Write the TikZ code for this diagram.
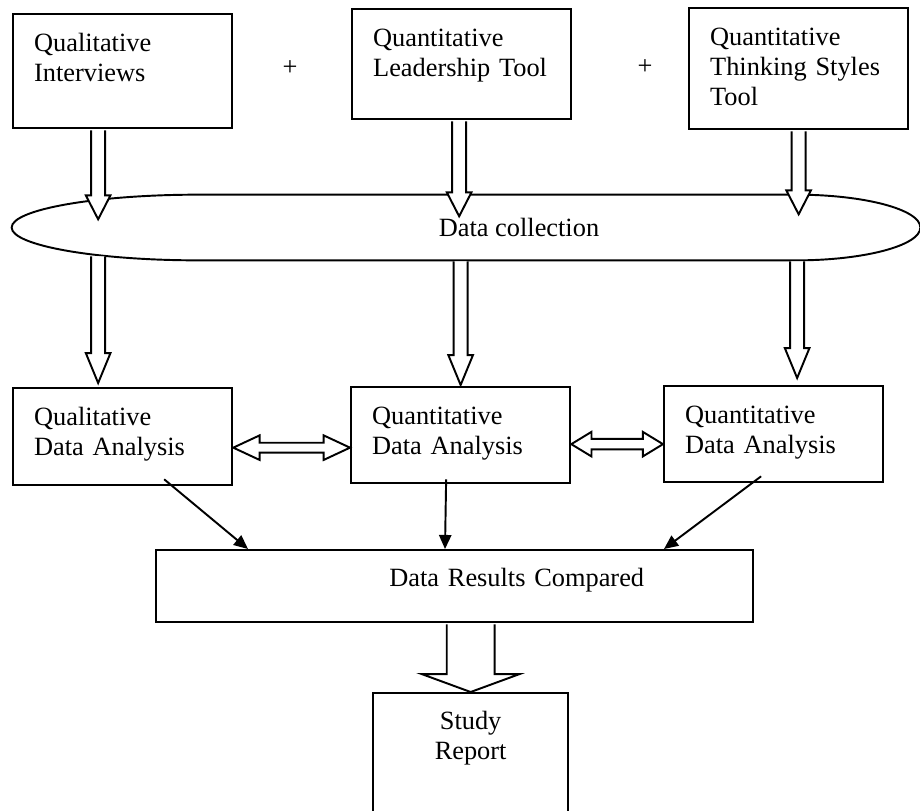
\documentclass[tikz,border=0pt]{standalone}
\usepackage{fontspec}
\setmainfont{Liberation Serif}
\usetikzlibrary{calc,arrows.meta}

% block arrow pointing down: x and tip from #2, shaft starts at the y of #1
\newcommand{\fatdown}[5]{%
  \draw[fatline] let \p1=(#1), \p2=(#2) in
    (\x2-#3,\y1-0.6pt) -- (\x2-#3,\y2+#5) -- (\x2-#4,\y2+#5) -- (\x2,\y2)
    -- (\x2+#4,\y2+#5) -- (\x2+#3,\y2+#5) -- (\x2+#3,\y1-0.6pt);}
% block arrow with two heads, horizontal at the y of #1
\newcommand{\fatboth}[5]{%
  \draw[fatline] let \p1=(#1), \p2=(#2) in
    (\x1,\y1) -- (\x1+#5,\y1+#4) -- (\x1+#5,\y1+#3) -- (\x2-#5,\y1+#3)
    -- (\x2-#5,\y1+#4) -- (\x2,\y1) -- (\x2-#5,\y1-#4) -- (\x2-#5,\y1-#3)
    -- (\x1+#5,\y1-#3) -- (\x1+#5,\y1-#4) -- cycle;}

\tikzset{
  ln/.style={line width=1.1pt},
  fatline/.style={ln, fill=white, line join=miter},
  feed/.style={ln, -{Triangle[length=8pt,width=7pt]}},
  srcbox/.style={draw, line width=1.3pt, anchor=north west,
    text width=35.4mm, inner xsep=4.2mm, inner ysep=0pt, text height=7.4mm},
  resbox/.style={draw, line width=1.3pt, anchor=north west, align=right,
    text width=75.8mm, inner xsep=21.8mm, inner ysep=0pt,
    text height=7.2mm, text depth=7.2mm},
  repbox/.style={draw, line width=1.3pt, anchor=north west, align=center,
    text width=35mm, inner xsep=2mm, inner ysep=0pt,
    text height=7.2mm, text depth=30mm}
}

\begin{document}
\begin{tikzpicture}[x=0.2mm, y=-0.2mm, font=\fontsize{15}{17.3}\selectfont]
  \useasboundingbox (0,0) rectangle (920,810);
  % Three sources
  \node[srcbox, text depth=15.4mm] (qlint) at (12,13) {Qualitative\\Interviews};
  \node[srcbox, text depth=14.6mm] (qnlead) at (351,8) {Quantitative\\Leadership Tool};
  \node[srcbox, text depth=16.8mm] (qnthink) at (688,7) {Quantitative\\Thinking Styles\\Tool};
  \node (plusa) at (290,68) {+};
  \node (plusb) at (645,67) {+};
  % Data collection (flattened ellipse)
  \node[minimum width=181.6mm, minimum height=13mm, inner sep=0pt] (collect) at (466,227.5) {};
  \draw[ln] (collect.west)
    .. controls +(0,-18) and +(-103,0) .. ($(collect.north west)+(187,0)$)
    -- ($(collect.north east)+(-124,0)$)
    .. controls +(68,0) and +(0,-18) .. (collect.east)
    .. controls +(0,18) and +(68,0) .. ($(collect.south east)+(-124,0)$)
    -- ($(collect.south west)+(187,0)$)
    .. controls +(-103,0) and +(0,18) .. (collect.west);
  \node (collecttxt) at ($(collect.center)+(53,0)$) {Data collection};
  % Analysis boxes
  \node[srcbox, text depth=12mm] (qlana) at (12,387) {Qualitative\\Data Analysis};
  \node[srcbox, text depth=11.8mm] (qnana1) at (350,386) {Quantitative\\Data Analysis};
  \node[srcbox, text depth=11.8mm] (qnana2) at (663,385) {Quantitative\\Data Analysis};
  % Comparison and report
  \node[resbox] (results) at (155,549) {Data Results Compared};
  \node[repbox] (report) at (372,692) {Study\\Report};
  % Block arrows into and out of the collection
  \fatdown{$(qlint.south)+(-24.5,0)$}{$(qlint.south)+(-24.5,90)$}{4pt}{7pt}{13.6pt}
  \fatdown{qnlead.south}{$(qnlead.south)+(-2.5,96)$}{4pt}{7pt}{13.6pt}
  \fatdown{qnthink.south}{$(qnthink.south)+(0,84)$}{4pt}{7pt}{13.6pt}
  \fatdown{$(collect.south)+(0,-5)$}{$(qlana.north)+(-24.5,-4)$}{4pt}{7pt}{17pt}
  \fatdown{collect.south}{$(qnana1.north)+(0,-1)$}{4pt}{7pt}{17pt}
  \fatdown{collect.south}{$(qnana2.north)+(23.5,-7)$}{4pt}{7pt}{17pt}
  % Links between analyses
  \fatboth{$(qlana.east)+(0,11)$}{qnana1.west}{2.8pt}{7pt}{15pt}
  \fatboth{$(qnana1.east)+(0,9)$}{qnana2.west}{3pt}{7pt}{11.5pt}
  % Into the comparison
  \draw[feed] ($(qlana.south)+(41.5,-7)$) -- ($(results.north west)+(93,0)$);
  \draw[feed] ($(qnana1.south)+(-14.5,-5)$) -- ($(results.north west)+(290,0)$);
  \draw[feed] ($(qnana2.south)+(-12.5,-7)$) -- ($(results.north west)+(509,0)$);
  \fatdown{results.south}{report.north}{13.6pt}{27.8pt}{10.2pt}
\end{tikzpicture}
\end{document}
